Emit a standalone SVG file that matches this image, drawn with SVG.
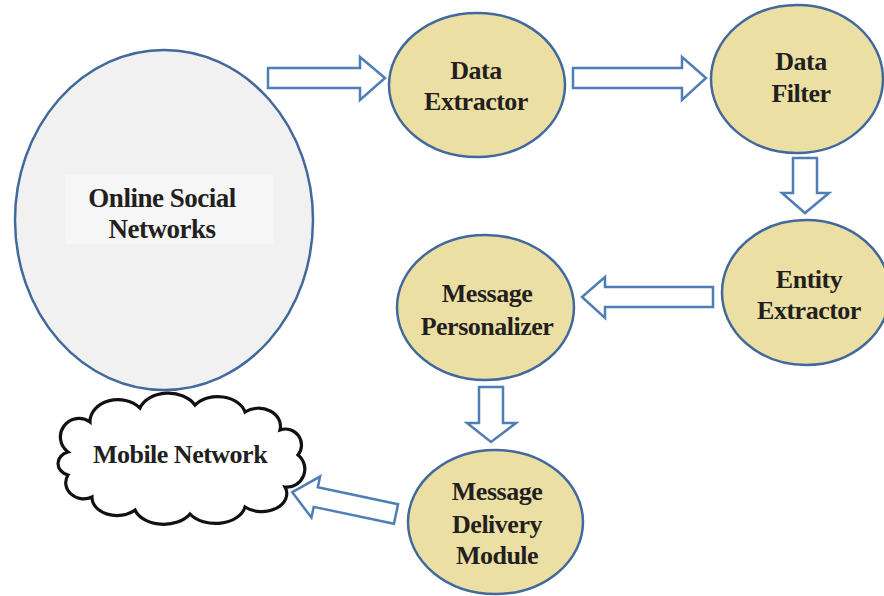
<svg xmlns="http://www.w3.org/2000/svg" width="884" height="596" viewBox="0 0 884 596">
<style>
.node{fill:#ecdfa3;stroke:#41699b;stroke-width:2.5}
.osn{fill:#f1f1f1;stroke:#41699b;stroke-width:2.5}
.arr{fill:#ffffff;stroke:#4f7db5;stroke-width:2.5;stroke-linejoin:miter}
.cloud{fill:#ffffff;stroke:#111111;stroke-width:3.2}
text{font-family:"Liberation Serif","Times New Roman",serif;font-weight:bold;font-size:26px;fill:#231f20;text-anchor:middle;letter-spacing:-0.5px}
</style>
<rect width="884" height="596" fill="#ffffff"/>
<g id="osn">
<ellipse class="osn" cx="164" cy="220" rx="149" ry="170"/>
<rect x="65" y="174" width="208" height="70" fill="#f6f6f6"/>
<text x="162" y="207" style="font-size:27px">Online Social</text>
<text x="162" y="238" style="font-size:27px">Networks</text>
</g>
<g id="data-extractor">
<ellipse class="node" cx="477" cy="85" rx="88" ry="72"/>
<text x="476" y="79">Data</text>
<text x="476" y="110">Extractor</text>
</g>
<g id="data-filter">
<ellipse class="node" cx="797" cy="79" rx="86" ry="74"/>
<text x="801" y="70">Data</text>
<text x="801" y="102">Filter</text>
</g>
<g id="entity-extractor">
<ellipse class="node" cx="806" cy="292.5" rx="84" ry="72.5"/>
<text x="809" y="288">Entity</text>
<text x="809" y="319">Extractor</text>
</g>
<g id="message-personalizer">
<ellipse class="node" cx="485.5" cy="307.5" rx="88.5" ry="72.5"/>
<text x="487" y="302">Message</text>
<text x="487" y="335">Personalizer</text>
</g>
<g id="message-delivery">
<ellipse class="node" cx="495.5" cy="522" rx="87.5" ry="72"/>
<text x="497" y="500">Message</text>
<text x="497" y="533">Delivery</text>
<text x="497" y="564">Module</text>
</g>
<g id="mobile-network">
<path class="cloud" d="M 68 452 A 18 18 0 0 1 90 422 A 28 22 0 0 1 140 408 A 30 22 0 0 1 195 405 A 28 20 0 0 1 245 412 A 22 18 0 0 1 280 430 A 16 16 0 0 1 298 455 A 18 18 0 0 1 285 487 A 25 18 0 0 1 245 507 A 30 20 0 0 1 190 514 A 30 20 0 0 1 135 510 A 25 18 0 0 1 92 497 A 18 16 0 0 1 68 475 A 14 12 0 0 1 68 452 Z"/>
<text x="180" y="463">Mobile Network</text>
</g>
<g id="connectors">
<polygon class="arr" points="268,68 360,68 360,57 385,78 360,100 360,88 268,88"/>
<polygon class="arr" points="573,68 682,68 682,57 706,78 682,100 682,88 573,88"/>
<polygon class="arr" points="793,158 817,158 817,193 829,193 805,213 782,193 793,193"/>
<polygon class="arr" points="713,287 605,287 605,277 582,297 605,318 605,307 713,307"/>
<polygon class="arr" points="479,387 503,387 503,423 516,423 491,442 467,423 479,423"/>
<polygon class="arr" transform="translate(396,514) rotate(191.9)" points="0,-10 82,-10 82,-21 106,0 82,21 82,10 0,10"/>
</g>
</svg>
